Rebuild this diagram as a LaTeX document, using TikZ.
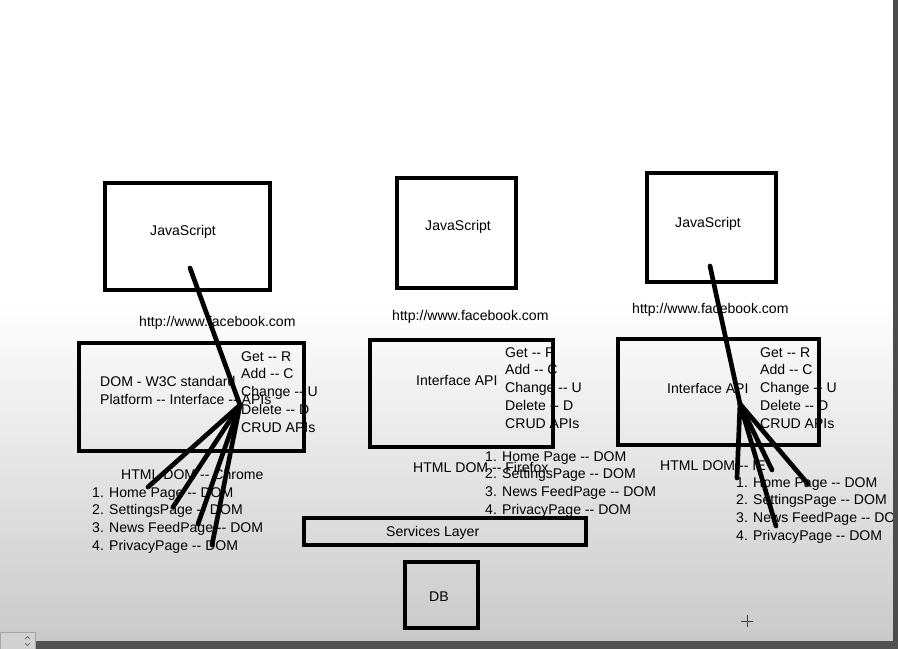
\documentclass[tikz,border=0pt]{standalone}
\usepackage{fontspec}
\setmainfont{Liberation Sans}
\newcommand{\dsh}{-\kern0pt-}

\begin{document}
\begin{tikzpicture}[x=0.03cm,y=-0.03cm,
    box/.style={draw,line width=2.6pt},
    txt/.style={inner sep=0pt,anchor=west,font=\fontsize{12}{15.3}\selectfont},
    lst/.style={txt,anchor=north west,align=left},
    pen/.style={line width=4pt,line cap=round}]
    \useasboundingbox (0,0) rectangle (898,649);
    \begin{scope}
        \clip (0,0) rectangle (893,641);
        \fill[white] (0,0) rectangle (893,300);
        \shade[top color=white,bottom color=black!21] (0,300) rectangle (893,641);

        % Chrome
        \draw[box] (105,183) rectangle (270,290);
        \node[txt] (jsA) at (150,232) {JavaScript};
        \node[txt] (urlA) at (139,323) {http://www.facebook.com};
        \draw[box] (79,343) rectangle (304,451);
        \node[lst] (domA) at (100,376) {DOM - W3C standard\\Platform \dsh{} Interface \dsh{} APIs};
        \node[lst] (crudA) at (241,351) {Get \dsh{} R\\Add \dsh{} C\\Change \dsh{} U\\Delete \dsh{} D\\CRUD APIs};
        \node[txt] (htmlA) at (121,474) {HTML DOM \dsh{} Chrome};
        \node[lst] (pagesA) at (92,487) {1. Home Page \dsh{} DOM\\2. SettingsPage \dsh{} DOM\\3. News FeedPage \dsh{} DOM\\4. PrivacyPage \dsh{} DOM};

        % Firefox
        \draw[box] (397,178) rectangle (516,288);
        \node[txt] (jsB) at (425,227) {JavaScript};
        \node[txt] (urlB) at (392,317) {http://www.facebook.com};
        \draw[box] (370,340) rectangle (553,447);
        \node[txt] (apiB) at (416,380) {Interface API};
        \node[lst] (crudB) at (505,347) {Get \dsh{} R\\Add \dsh{} C\\Change \dsh{} U\\Delete \dsh{} D\\CRUD APIs};
        \node[txt] (htmlB) at (413,467) {HTML DOM \dsh{} Firefox};
        \node[lst] (pagesB) at (485,451) {1. Home Page \dsh{} DOM\\2. SettingsPage \dsh{} DOM\\3. News FeedPage \dsh{} DOM\\4. PrivacyPage \dsh{} DOM};

        % IE
        \draw[box] (647,173) rectangle (776,282);
        \node[txt] (jsC) at (675,224) {JavaScript};
        \node[txt] (urlC) at (632,310) {http://www.facebook.com};
        \draw[box] (618,339) rectangle (819,445);
        \node[txt] (apiC) at (667,388) {Interface API};
        \node[lst] (crudC) at (760,347) {Get \dsh{} R\\Add \dsh{} C\\Change \dsh{} U\\Delete \dsh{} D\\CRUD APIs};
        \node[txt] (htmlC) at (660,466) {HTML DOM \dsh{} IE};
        \node[lst] (pagesC) at (736,477) {1. Home Page \dsh{} DOM\\2. SettingsPage \dsh{} DOM\\3. News FeedPage \dsh{} DOM\\4. PrivacyPage \dsh{} DOM};

        % services and db
        \draw[box] (304,518) rectangle (586,545);
        \node[txt] (svc) at (386,533) {Services Layer};
        \draw[box] (405,562) rectangle (478,628);
        \node[txt] (db) at (429,597) {DB};

        % pen strokes
        \coordinate (tA) at (190,268);
        \coordinate (hA) at (240,405);
        \coordinate (a1) at (148,487);
        \coordinate (a2) at (173,507);
        \coordinate (a3) at (198,524);
        \coordinate (a4) at (212,545);
        \draw[pen] (tA) -- (hA);
        \draw[pen] (hA) -- (a1);
        \draw[pen] (hA) -- (a2);
        \draw[pen] (hA) -- (a3);
        \draw[pen] (hA) -- (a4);
        \coordinate (tC) at (710,266);
        \coordinate (hC) at (740,404);
        \coordinate (c1) at (737,478);
        \coordinate (c2) at (772,470);
        \coordinate (c3) at (808,484);
        \coordinate (c4) at (776,526);
        \draw[pen] (tC) -- (hC);
        \draw[pen] (hC) -- (c1);
        \draw[pen] (hC) -- (c2);
        \draw[pen] (hC) -- (c3);
        \draw[pen] (hC) -- (c4);

        % cursor
        \draw[black!75,line width=0.6pt] (741,621) -- (753,621) (747,615) -- (747,627);
    \end{scope}
    % window edges
    \fill[black!70] (893,0) rectangle (898,649);
    \fill[black!68] (0,641) rectangle (898,649);
    \draw[fill=black!18,draw=black!35,line width=0.5pt] (0,632) rectangle (35,649);
    \draw[black!60,line width=0.6pt] (25,639) -- (27.5,636.5) -- (30,639) (25,643) -- (27.5,645.5) -- (30,643);
\end{tikzpicture}
\end{document}
